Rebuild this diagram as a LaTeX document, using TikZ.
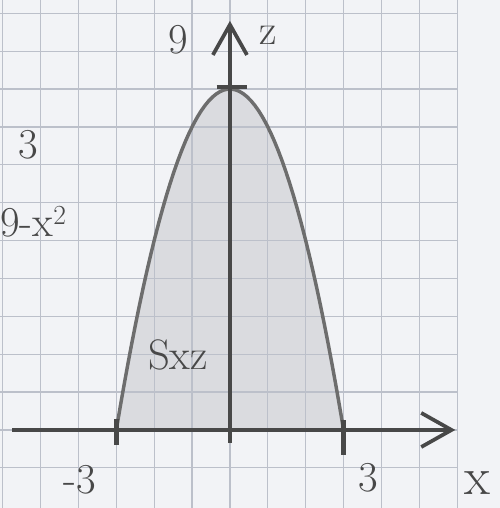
\documentclass[tikz,border=0pt]{standalone}
\usepackage{amsmath}
\usepackage{tikz}
\usetikzlibrary{arrows.meta}

\definecolor{paper}{RGB}{242,243,246}
\definecolor{gridline}{RGB}{188,192,202}
\definecolor{pencil}{RGB}{72,72,72}
\definecolor{pencilfill}{RGB}{218,219,223}

\begin{document}
\begin{tikzpicture}[
    >={Straight Barb[length=8mm, width=9mm]},
    gridlines/.style={draw=gridline, line width=0.9pt},
    axis/.style={draw=pencil, line width=2.8pt},
    curve/.style={draw=pencil!80, line width=2.6pt},
    tickmark/.style={draw=pencil, line width=3.5pt},
    hand/.style={text=pencil, font=\fontsize{32}{36}\selectfont, inner sep=0pt}
]

% Paper, shaded region and grid
\fill[paper] (-6.07,-2.06) rectangle (7.12,11.35);
\useasboundingbox (-6.07,-2.06) rectangle (7.12,11.35);
\fill[pencilfill] plot[domain=-3:3, samples=60] (\x,{9-\x*\x}) -- cycle;
\foreach \i in {-6,...,6} \draw[gridlines] (\i,-2.06) -- (\i,11.35);
\foreach \j in {-1,...,11} \draw[gridlines] (-6.07,\j) -- (6,\j);

% Parabola
\draw[curve] plot[domain=-3:3, samples=60] (\x,{9-\x*\x});

% Axes
\coordinate (xfrom) at (-5.75,0);
\coordinate (xto) at (5.95,0);
\coordinate (zfrom) at (0,-0.35);
\coordinate (zto) at (0,10.8);
\draw[axis,->] (xfrom) -- (xto);
\draw[axis,->] (zfrom) -- (zto);

% Tick marks
\draw[tickmark] (-3,0.3) -- (-3,-0.4);
\draw[tickmark] (3,0.25) -- (3,-0.65);
\draw[tickmark] (-0.35,9.05) -- (0.45,9.05);

% Labels
\node[hand] (nine) at (-1.37,10.29) {9};
\node[hand] (zlabel) at (1.0,10.42) {z};
\node[hand] (three) at (-5.33,7.52) {3};
\node[hand, anchor=east] (surface) at (-4.3,5.5) {9-x$^{2}$};
\node[hand] (region) at (-1.37,1.98) {Sxz};
\node[hand] (minus3) at (-3.96,-1.32) {-3};
\node[hand] (plus3) at (3.64,-1.27) {3};
\node[hand, font=\fontsize{40}{44}\selectfont] (xlabel) at (6.54,-1.4) {x};

\end{tikzpicture}
\end{document}
